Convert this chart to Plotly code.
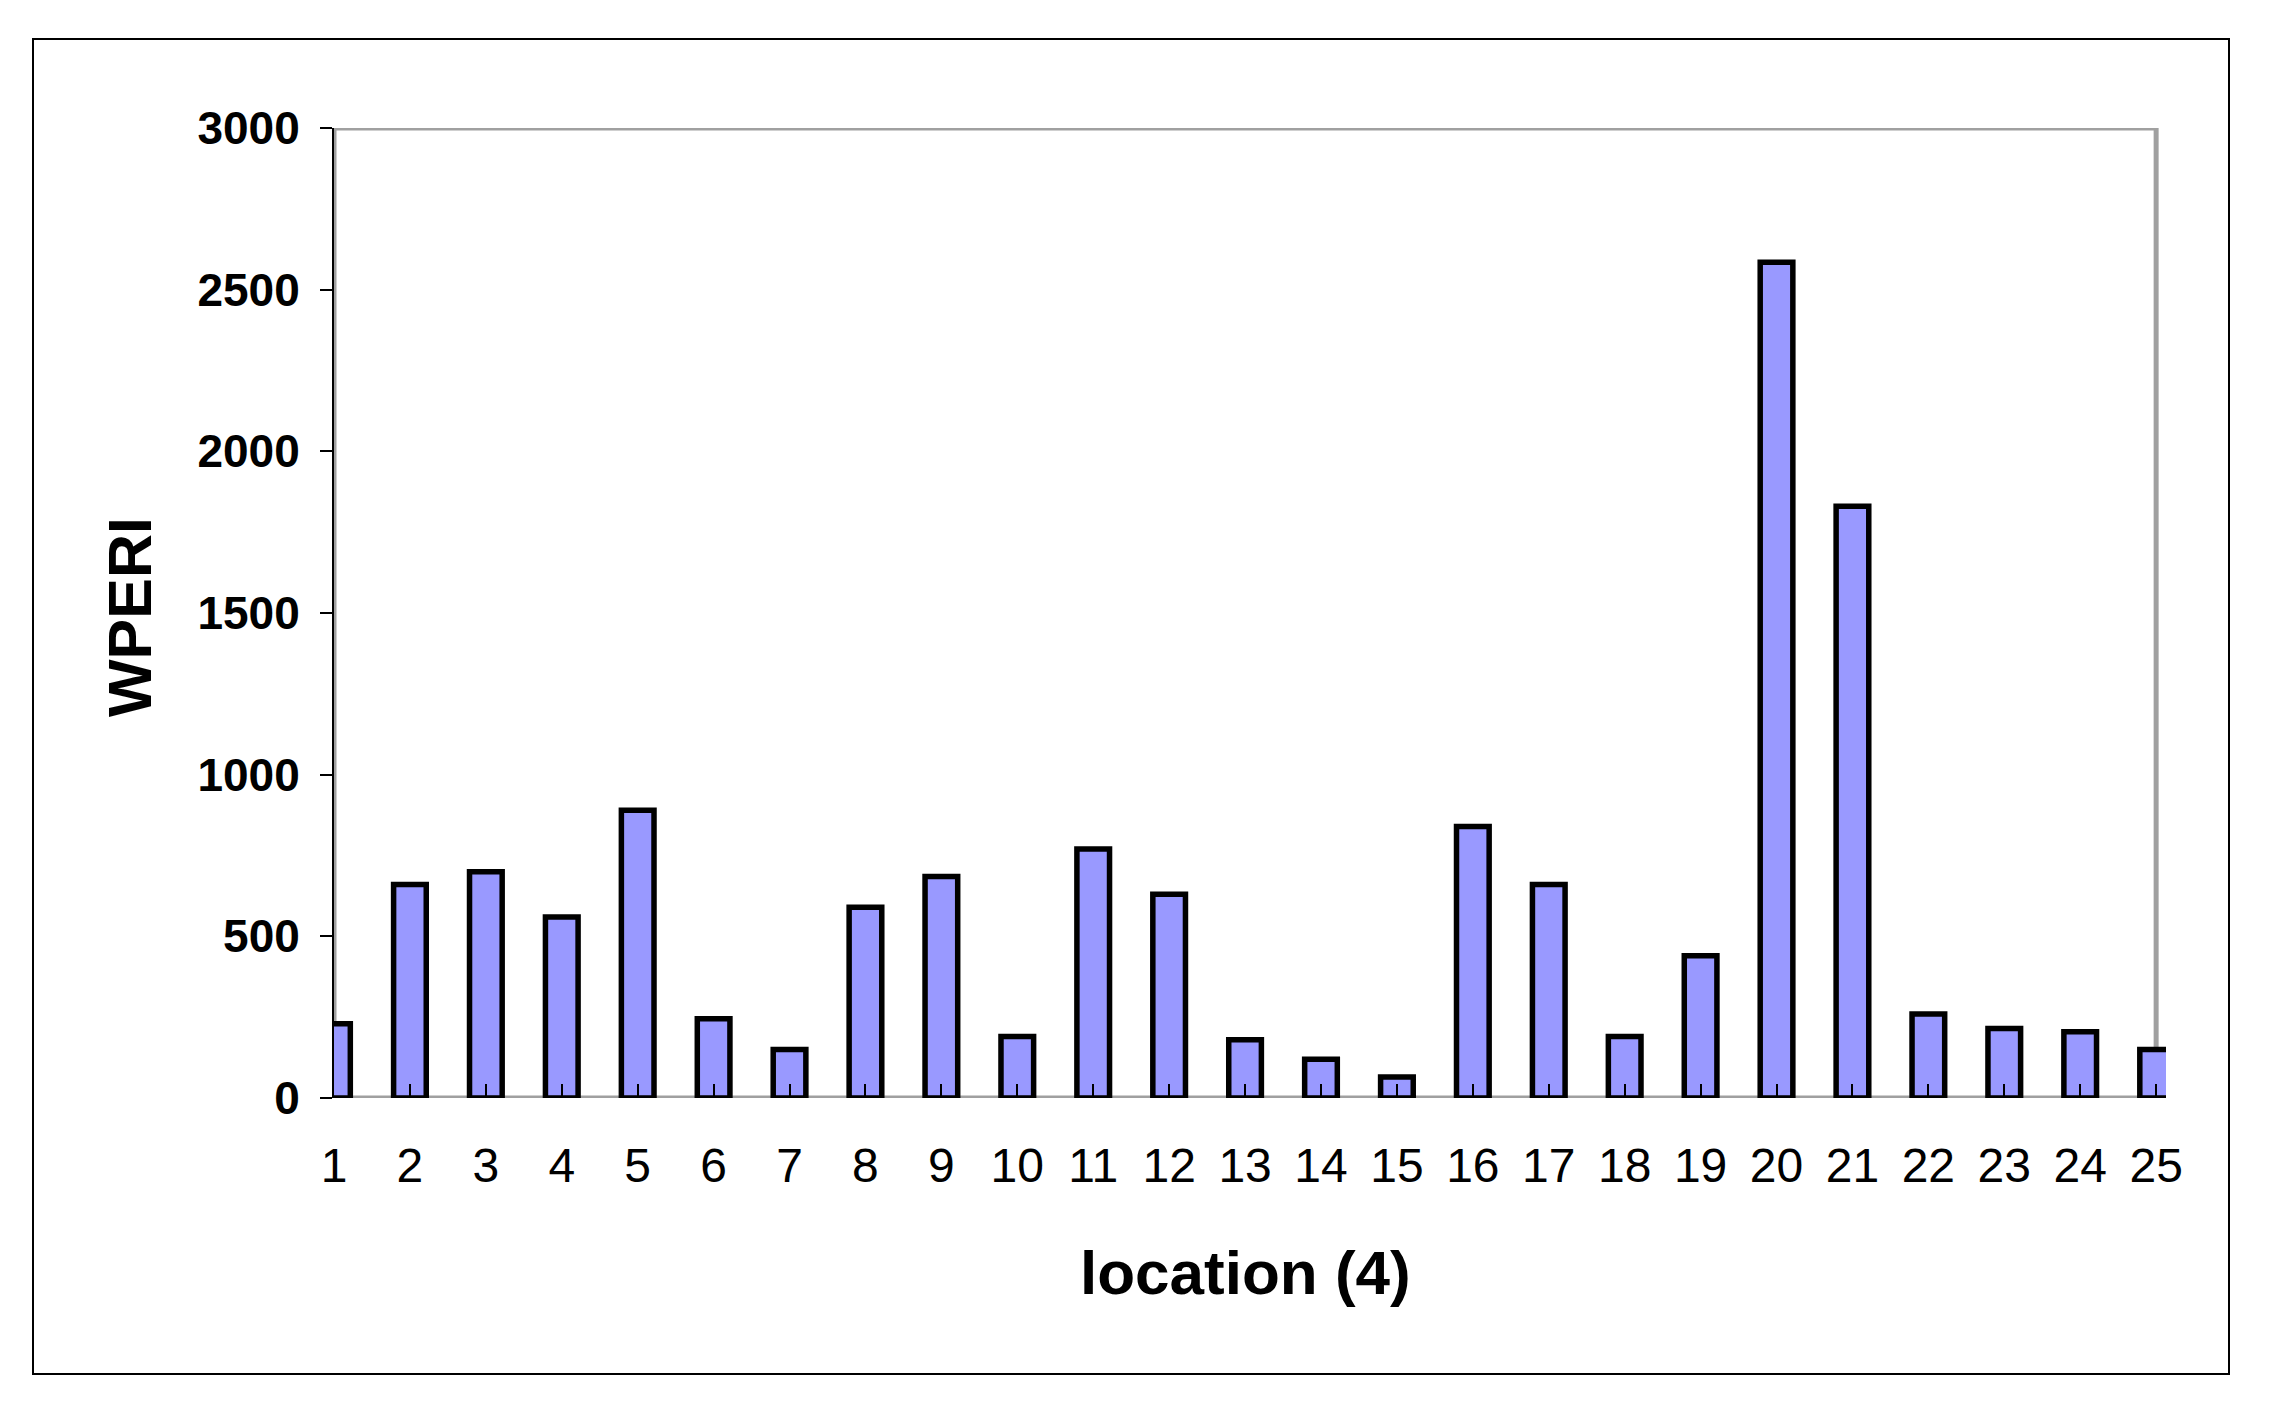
import plotly.graph_objects as go

locations = list(range(1, 26))
wperi = [230, 660, 700, 560, 890, 245, 150, 590, 685, 190, 770, 630, 180, 120, 65,
         840, 660, 190, 440, 2585, 1830, 260, 215, 205, 150]
y_ticks = [0, 500, 1000, 1500, 2000, 2500, 3000]

W, H = 2270, 1408
OFF = 8  # page body margin offset
px_left, px_right, px_top, px_bottom = 334 - OFF, 2166 - OFF, 128 - OFF, 1098 - OFF
L, R, T, B = px_left, W - px_right, px_top, H - px_bottom
PW, PH = px_right - px_left, px_bottom - px_top


def fx(x):
    return (x - OFF - px_left) / PW


def fy(y):
    return (px_bottom - (y - OFF)) / PH


fig = go.Figure()
fig.add_trace(go.Bar(
    x=locations, y=wperi, width=0.43,
    marker=dict(color="#9999FF", line=dict(color="black", width=5.5)),
    showlegend=False,
))

# plot-area frame (gray)
fig.add_shape(type="rect", xref="x", yref="y", x0=1, x1=25, y0=0, y1=3000,
              line=dict(color="#A0A0A0", width=5), layer="below")
# outer chart frame
fig.add_shape(type="rect", xref="paper", yref="paper",
              x0=fx(33), x1=fx(2229), y0=fy(1374), y1=fy(39),
              line=dict(color="black", width=2))

fig.update_layout(
    width=W, height=H,
    margin=dict(l=L, r=R, t=T, b=B, pad=0),
    paper_bgcolor="white", plot_bgcolor="white",
    font=dict(family="Liberation Sans, Arial, sans-serif", color="black"),
    bargap=0.6,
    xaxis=dict(
        range=[1, 25.13], tickmode="array", tickvals=locations,
        ticktext=[str(v) for v in locations],
        ticks="inside", ticklen=14, tickwidth=2, tickcolor="black",
        showline=False, showgrid=False, zeroline=False,
        tickfont=dict(size=48, family="Liberation Sans, Arial, sans-serif"),
        ticklabelstandoff=35, layer="above traces",
    ),
    yaxis=dict(
        range=[0, 3000], tickmode="array", tickvals=y_ticks,
        ticktext=[str(v) for v in y_ticks],
        ticks="outside", ticklen=12, tickwidth=2, tickcolor="black",
        showline=True, linecolor="black", linewidth=2,
        showgrid=False, zeroline=False,
        tickfont=dict(size=46, family="Liberation Sans, Arial, sans-serif", weight="bold"),
        ticklabelstandoff=11, layer="above traces",
    ),
    annotations=[
        dict(text="<b>location (4)</b>", xref="paper", yref="paper",
             x=fx(1245), y=fy(1272),
             xanchor="center", yanchor="middle", showarrow=False,
             font=dict(size=62)),
        dict(text="<b>WPERI</b>", xref="paper", yref="paper",
             x=fx(130), y=fy(617),
             xanchor="center", yanchor="middle", showarrow=False, textangle=-90,
             font=dict(size=61)),
    ],
)

fig.write_html("out.html")
